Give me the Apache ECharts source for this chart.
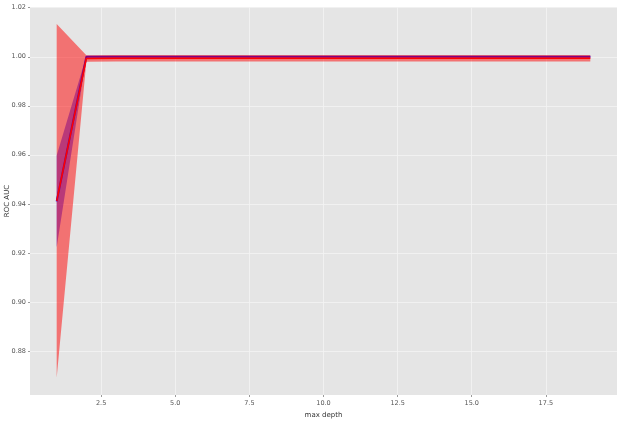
<!DOCTYPE html>
<html><head><meta charset="utf-8">
<script src="https://cdn.jsdelivr.net/npm/echarts@6/dist/echarts.min.js"></script>
<style>html,body{margin:0;padding:0;background:#fff}#c{width:624px;height:422px}</style>
</head><body><div id="c"></div>
<script>
const depths = [1,2,3,4,5,6,7,8,9,10,11,12,13,14,15,16,17,18,19];
const trainMean = [0.9410,1.0000,1.0000,1.0000,1.0000,1.0000,1.0000,1.0000,1.0000,1.0000,1.0000,1.0000,1.0000,1.0000,1.0000,1.0000,1.0000,1.0000,1.0000];
const trainStd  = [0.0187,0.0002,0.0002,0.0002,0.0002,0.0002,0.0002,0.0002,0.0002,0.0002,0.0002,0.0002,0.0002,0.0002,0.0002,0.0002,0.0002,0.0002,0.0002];
const testMean  = [0.9412,0.9993,0.9994,0.9994,0.9994,0.9994,0.9994,0.9994,0.9994,0.9994,0.9994,0.9994,0.9994,0.9994,0.9994,0.9994,0.9994,0.9994,0.9994];
const testStd   = [0.0722,0.0013,0.0013,0.0013,0.0013,0.0013,0.0013,0.0013,0.0013,0.0013,0.0013,0.0013,0.0013,0.0013,0.0013,0.0013,0.0013,0.0013,0.0013];
const xTicks = [2.5,5.0,7.5,10.0,12.5,15.0,17.5];
const yTicks = [0.88,0.90,0.92,0.94,0.96,0.98,1.00,1.02];

const pairs = (ys) => depths.map((d,i)=>[d, ys[i]]);

function bandSeries(mean, std, color, z){
  return {
    type:'custom', silent:true, z:z,
    data:[[depths[0], mean[0]]],
    renderItem:(params, api)=>{
      const up = depths.map((d,i)=>api.coord([d, mean[i]+std[i]]));
      const lo = depths.map((d,i)=>api.coord([d, mean[i]-std[i]])).reverse();
      return {type:'polygon', shape:{points:up.concat(lo)}, style:{fill:color, opacity:0.5}};
    }
  };
}

const chart = echarts.init(document.getElementById('c'), null, {renderer:'canvas'});
const font = 'DejaVu Sans';
chart.setOption({
  animation:false,
  backgroundColor:'#ffffff',
  grid:{left:30, right:7, top:7, bottom:27, outerBoundsMode:'none', containLabel:false, show:true, backgroundColor:'#e5e5e5', borderWidth:0},
  xAxis:{
    type:'value', min:0.1, max:19.9,
    name:'max depth', nameLocation:'middle', nameGap:16,
    nameTextStyle:{fontFamily:font, fontSize:7, color:'#333'},
    axisLine:{show:false},
    axisTick:{show:true, length:2, lineStyle:{color:'#555', width:0.6}, customValues:xTicks},
    axisLabel:{fontFamily:font, fontSize:6.5, color:'#555', margin:5, customValues:xTicks, formatter:v=>v.toFixed(1)},
    splitLine:{show:true, lineStyle:{color:'#f4f4f4', width:0.8}}
  },
  yAxis:{
    type:'value', min:0.862, max:1.0203,
    name:'ROC AUC', nameLocation:'middle', nameGap:19, nameRotate:90, nameMoveOverlap:false,
    nameTextStyle:{fontFamily:font, fontSize:7, color:'#333'},
    axisLine:{show:false},
    axisTick:{show:true, length:2, lineStyle:{color:'#555', width:0.6}, customValues:yTicks},
    axisLabel:{fontFamily:font, fontSize:6.5, color:'#555', margin:4, customValues:yTicks, formatter:v=>v.toFixed(2)},
    splitLine:{show:true, lineStyle:{color:'#f4f4f4', width:0.8}}
  },
  series:[
    bandSeries(trainMean, trainStd, '#0000ff', 1),
    {type:'line', z:2, data:pairs(trainMean), symbol:'none', lineStyle:{color:'#0000ff', width:2}},
    bandSeries(testMean, testStd, '#ff0000', 3),
    {type:'line', z:4, data:pairs(testMean), symbol:'none', lineStyle:{color:'#ff0000', width:1.5}}
  ]
});
</script></body></html>
